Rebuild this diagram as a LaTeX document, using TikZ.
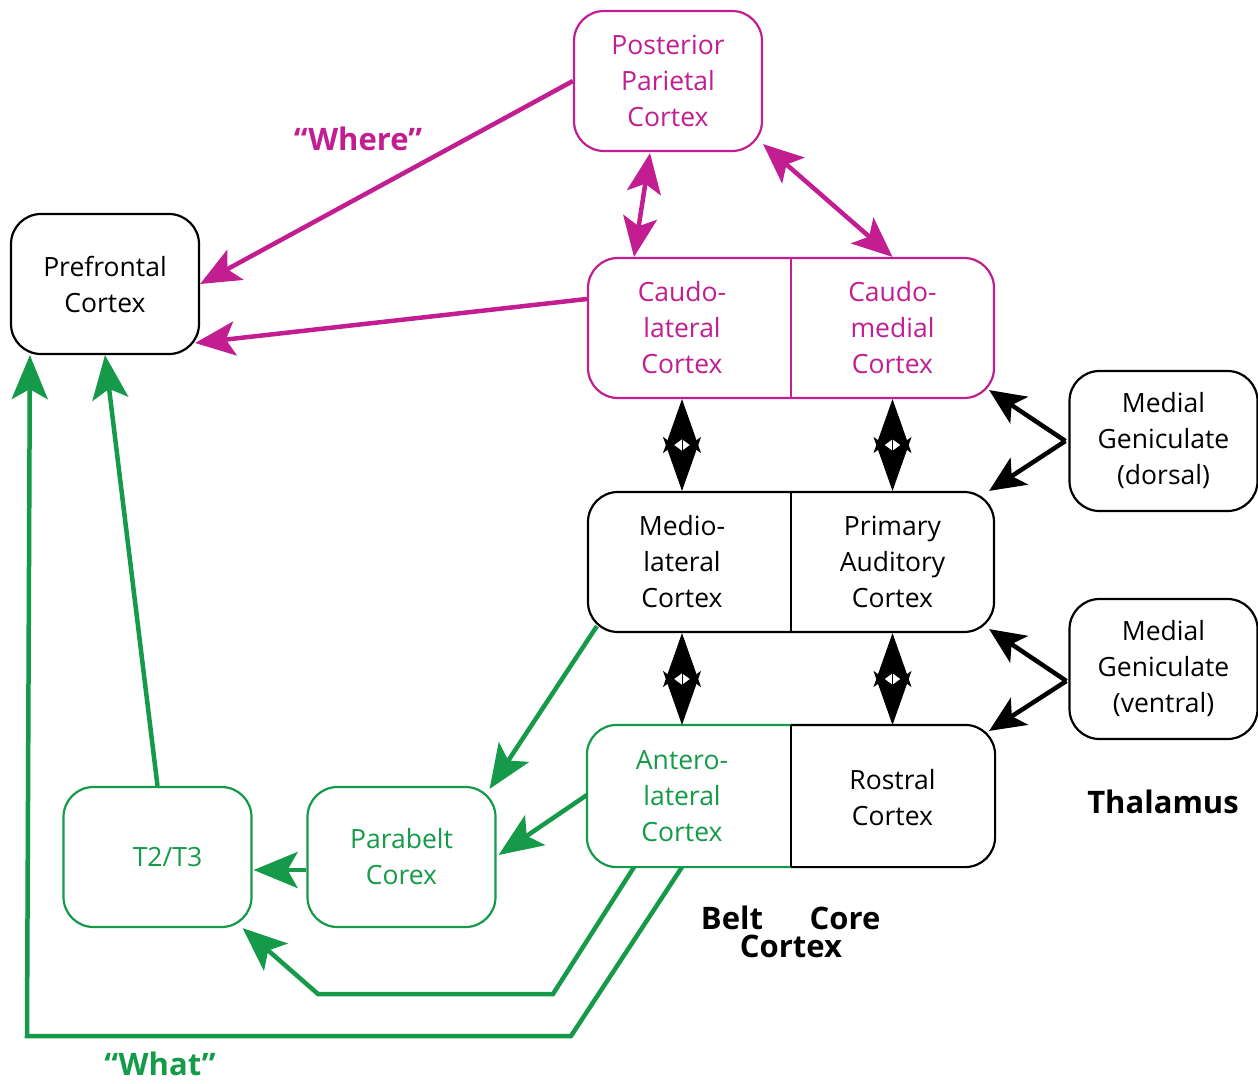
\documentclass[tikz,border=0pt]{standalone}
\usepackage{fontspec}
\setmainfont{Open Sans}
\usetikzlibrary{arrows.meta,calc}
\definecolor{mag}{RGB}{194,30,145}
\definecolor{grn}{RGB}{20,154,72}
\begin{document}
\begin{tikzpicture}[x=1pt,y=-1pt,
  txt/.style={align=center,inner sep=0pt,font=\fontsize{26.5}{36}\selectfont},
  box/.style={txt,draw,line width=2.2pt,rounded corners=30pt,minimum width=188pt,minimum height=140pt},
  wide/.style={line width=2.2pt,rounded corners=30pt,minimum width=406pt,minimum height=140pt,inner sep=0pt},
  lbl/.style={inner sep=0pt,font=\fontsize{31}{34}\selectfont\bfseries},
  marr/.style={mag,line width=4.5pt,-{Stealth[length=40pt,width=34pt,inset=9pt]}},
  mdbl/.style={mag,line width=4.5pt,{Stealth[length=40pt,width=34pt,inset=9pt]}-{Stealth[length=40pt,width=34pt,inset=9pt]}},
  garr/.style={grn,line width=4.5pt,line join=miter,-{Stealth[length=44pt,width=36pt,inset=10pt]}},
  karr/.style={black,line width=4.5pt,-{Stealth[length=36pt,width=32pt,inset=9pt]}},
  kdbl/.style={black,line width=1pt,{Stealth[length=54pt,width=38pt,inset=14pt]}-{Stealth[length=54pt,width=38pt,inset=14pt]}}
]
\useasboundingbox (0,0) rectangle (1258,1084);
\fill[white] (0,0) rectangle (1258,1084);

% single boxes
\node[box,draw=mag,text=mag] (ppc) at (668,81) {Posterior\\Parietal\\Cortex};
\node[box] (pf) at (105,284) {Prefrontal\\Cortex};
\node[box] (mgd) at (1163.5,441) {Medial\\Geniculate\\(dorsal)};
\node[box] (mgv) at (1163.5,669) {Medial\\Geniculate\\(ventral)};
\node[box,draw=grn,text=grn] (pb) at (401.5,857) {Parabelt\\Corex};
\node[box,draw=grn,text=grn] (t2) at (157.5,857) {\hspace*{20pt}T2/T3};

% split boxes
\node[wide,draw=mag] (top) at (791,328) {};
\node[wide,draw=black] (mid) at (791,562) {};
\node[wide] (bot) at (791,796) {};
\draw[mag,line width=2.2pt] (top.north) -- (top.south);
\draw[line width=2.2pt] (mid.north) -- (mid.south);
\draw[grn,line width=2.2pt,rounded corners=30pt] (bot.north) -- (bot.north west) -- (bot.south west) -- (bot.south);
\draw[line width=2.2pt,rounded corners=30pt] (bot.north) -- (bot.north east) -- (bot.south east) -- (bot.south);
\draw[line width=2.2pt] (bot.north) -- (bot.south);

\node[txt,text=mag] (cl) at (682,328) {Caudo-\\lateral\\Cortex};
\node[txt,text=mag] (cm) at (892.5,328) {Caudo-\\medial\\Cortex};
\node[txt] (ml) at (682,562) {Medio-\\lateral\\Cortex};
\node[txt] (pa) at (892.5,562) {Primary\\Auditory\\Cortex};
\node[txt,text=grn] (al) at (682,796) {Antero-\\lateral\\Cortex};
\node[txt] (rc) at (892.5,798) {Rostral\\Cortex};

% labels
\node[lbl,text=mag] (where) at (358,139) {“Where”};
\node[lbl,text=grn] (what) at (160,1064) {“What”};
\node[lbl] (thal) at (1163,802) {Thalamus};
\node[lbl] (belt) at (732,918) {Belt};
\node[lbl] (core) at (845,918) {Core};
\node[lbl] (ctx) at (791,946) {Cortex};

% magenta
\draw[marr] (ppc.west) -- (pf.east);
\draw[marr] ($(top.west)+(0,-29)$) -- ($(pf.east)+(-5,59)$);
\draw[mdbl] ($(ppc.south)+(-18,1)$) -- ($(top.north -| cl)+(-48,0)$);
\draw[mdbl] ($(ppc.south east)+(0,-8)$) -- (top.north -| cm);

% black
\draw[kdbl] (top.south -| cl) -- (mid.north -| cl);
\draw[kdbl] (top.south -| cm) -- (mid.north -| cm);
\draw[kdbl] (mid.south -| ml) -- (bot.north -| ml);
\draw[kdbl] (mid.south -| pa) -- (bot.north -| pa);
\draw[karr] ($(mgd.west)+(-3,0)$) -- ($(top.south east)+(-6,-9)$);
\draw[karr] ($(mgd.west)+(-3,0)$) -- ($(mid.north east)+(-6,0)$);
\draw[karr] ($(mgv.west)+(-2,12)$) -- ($(mid.south east)+(-6,-4)$);
\draw[karr] ($(mgv.west)+(-2,12)$) -- ($(bot.north east)+(-6,6)$);

% green
\draw[garr] ($(mid.south west)+(10,-7)$) -- ($(pb.north east)+(-7,3)$);
\draw[garr] ($(bot.west)+(0,-1)$) -- ($(pb.east)+(2,-2)$);
\draw[garr] ($(pb.west)+(0,13)$) -- ($(t2.east)+(1,13)$);
\draw[garr] (t2.north) -- (pf.south);
\coordinate (b1) at (553,994);
\coordinate (b2) at (318,994);
\coordinate (c1) at (571,1036);
\coordinate (c2) at (27,1036);
\draw[garr] ($(bot.south -| al)+(-48,0)$) -- (b1) -- (b2) -- ($(t2.south east)+(-10,0)$);
\draw[garr] (bot.south -| al) -- (c1) -- (c2) -- ($(pf.south west)+(20,0)$);
\end{tikzpicture}
\end{document}
